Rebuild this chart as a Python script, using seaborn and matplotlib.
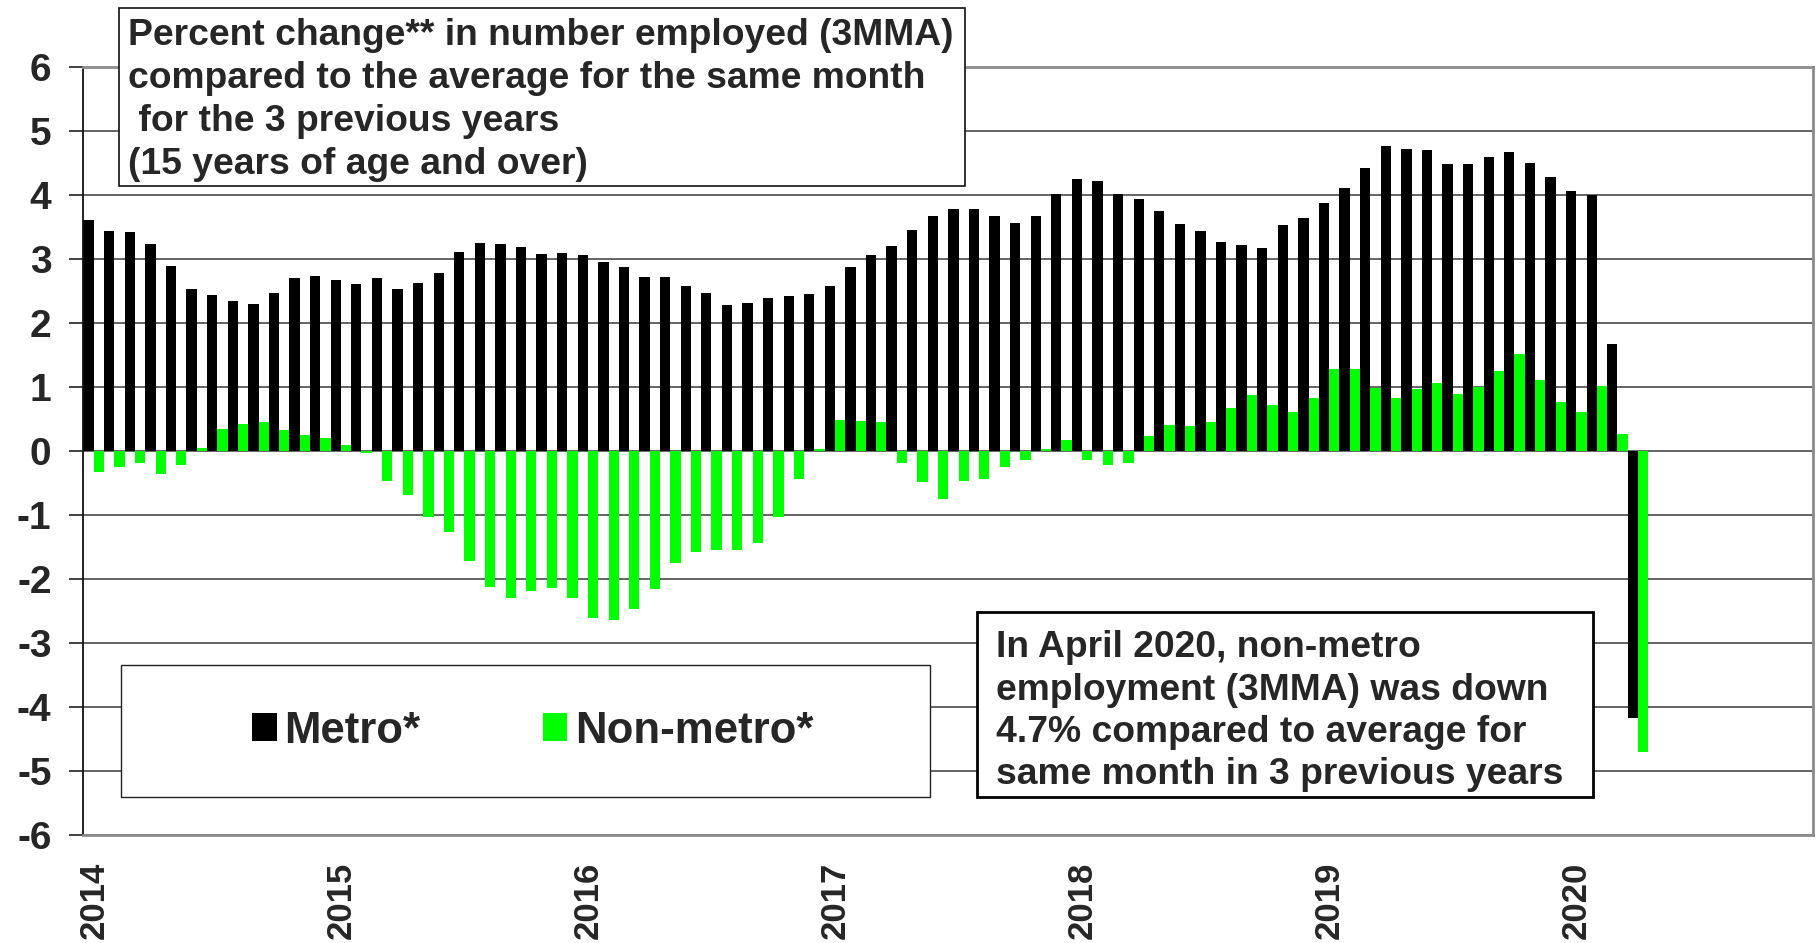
import matplotlib
matplotlib.use('Agg')
import matplotlib.pyplot as plt
from matplotlib.patches import Rectangle, Patch
import pandas as pd
import seaborn as sns

# monthly categories Jan 2014 - Dec 2020 (axis runs to end of 2020, data ends Apr 2020)
years = [2014, 2015, 2016, 2017, 2018, 2019, 2020]
months = [f"{y}-{m:02d}" for y in years for m in range(1, 13)]

# percent change vs avg of same month in 3 previous years (3MMA)
metro = [3.62, 3.44, 3.43, 3.24, 2.90, 2.54, 2.44, 2.35, 2.30, 2.48, 2.71, 2.74,
         2.67, 2.61, 2.70, 2.54, 2.63, 2.78, 3.11, 3.26, 3.24, 3.19, 3.08, 3.10,
         3.06, 2.96, 2.88, 2.73, 2.73, 2.59, 2.48, 2.28, 2.31, 2.40, 2.42, 2.46,
         2.59, 2.88, 3.06, 3.21, 3.46, 3.67, 3.78, 3.78, 3.68, 3.56, 3.68, 4.02,
         4.26, 4.22, 4.02, 3.95, 3.75, 3.55, 3.44, 3.27, 3.23, 3.17, 3.54, 3.64,
         3.88, 4.12, 4.43, 4.77, 4.73, 4.71, 4.49, 4.49, 4.60, 4.68, 4.51, 4.28,
         4.06, 4.00, 1.67, -4.17]
non_metro = [-0.33, -0.25, -0.19, -0.35, -0.22, 0.05, 0.35, 0.42, 0.46, 0.33, 0.26, 0.20,
             0.10, -0.03, -0.47, -0.69, -1.03, -1.26, -1.71, -2.12, -2.29, -2.18, -2.13, -2.30,
             -2.61, -2.64, -2.47, -2.15, -1.75, -1.57, -1.54, -1.54, -1.44, -1.02, -0.43, 0.04,
             0.49, 0.47, 0.45, -0.19, -0.48, -0.75, -0.47, -0.43, -0.25, -0.14, 0.03, 0.18,
             -0.13, -0.22, -0.18, 0.24, 0.41, 0.39, 0.46, 0.68, 0.88, 0.72, 0.61, 0.84,
             1.28, 1.29, 0.99, 0.83, 0.97, 1.06, 0.89, 1.00, 1.26, 1.52, 1.11, 0.77,
             0.62, 1.02, 0.27, -4.70]
series = ['Metro*', 'Non-metro*']
colors = ['#000000', '#00ff00']

n = len(metro)
df = pd.DataFrame({
    'month': months[:n] * 2,
    'series': [series[0]] * n + [series[1]] * n,
    'value': metro + non_metro,
})

sns.set_style('white')
plt.rcParams['font.family'] = ['Liberation Sans', 'DejaVu Sans']
plt.rcParams['font.weight'] = 'bold'
plt.rcParams['axes.unicode_minus'] = False

fig = plt.figure(figsize=(18.19, 9.43), dpi=100)
ax = fig.add_axes([0.0459, 0.1143, 0.9508, 0.8143])

sns.barplot(data=df, x='month', y='value', hue='series', order=months,
            hue_order=series, palette=colors, width=1.0, saturation=1,
            errorbar=None, linewidth=0, legend=False, ax=ax)

ax.set_xlim(-0.5, len(months) - 0.5)
ax.set_ylim(-6, 6)
ax.set_yticks(range(-6, 7))
ax.set_yticklabels([str(v) for v in range(-6, 7)], fontsize=28, fontweight='bold')
ax.set_xticks([months.index(f"{y}-01") for y in years])
ax.set_xticklabels([str(y) for y in years], rotation=90, fontsize=25, fontweight='bold')
ax.tick_params(axis='x', length=0, pad=19)
ax.tick_params(axis='y', length=10, width=1.3, color='#333333', pad=13, direction='out', left=True)
ax.set_xlabel('')
ax.set_ylabel('')

ax.set_axisbelow(True)
ax.yaxis.grid(True, color='#3a3a3a', linewidth=1.1)
for side in ['top', 'right', 'bottom']:
    ax.spines[side].set_color('#8c8c8c')
    ax.spines[side].set_linewidth(2)
ax.spines['left'].set_color('#111111')
ax.spines['left'].set_linewidth(1.3)

# title box
fig.patches.append(Rectangle((0.0652, 0.803), 0.4653, 0.188, transform=fig.transFigure,
                             facecolor='white', edgecolor='#111111', linewidth=1.2, zorder=5))
title_lines = ['Percent change** in number employed (3MMA)',
               'compared to the average for the same month',
               ' for the 3 previous years',
               '(15 years of age and over)']
for i, line in enumerate(title_lines):
    fig.text(0.0702, 1 - (45 + 43 * i) / 943, line, fontsize=26.8, fontweight='bold',
             va='baseline', ha='left', zorder=6)

# legend box
fig.patches.append(Rectangle((0.0663, 0.1548), 0.445, 0.1403, transform=fig.transFigure,
                             facecolor='white', edgecolor='#222222', linewidth=1.0, zorder=5))
handles = [Patch(facecolor=c, edgecolor='none') for c in colors]
leg = fig.legend(handles, series, loc='center', bbox_to_anchor=(0.293, 0.2248),
                 ncol=2, frameon=False, handlelength=0.55, handleheight=0.6,
                 handletextpad=0.18, columnspacing=2.8, prop={'weight': 'bold', 'size': 31.5})
leg.set_zorder(6)

# note box
fig.patches.append(Rectangle((0.537, 0.1548), 0.3385, 0.1957, transform=fig.transFigure,
                             facecolor='white', edgecolor='#000000', linewidth=2.0, zorder=5))
note_lines = ['In April 2020, non-metro',
              'employment (3MMA) was down',
              '4.7% compared to average for',
              'same month in 3 previous years']
for i, line in enumerate(note_lines):
    fig.text(0.5475, 1 - (657 + 42.5 * i) / 943, line, fontsize=26.8, fontweight='bold',
             va='baseline', ha='left', zorder=6)

fig.savefig('out.png', dpi=100)
